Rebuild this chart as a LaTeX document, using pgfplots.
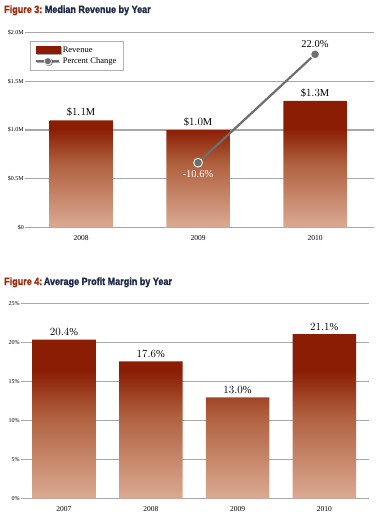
\documentclass[border=0pt]{standalone}
\usepackage{fontspec}
\setmainfont{Liberation Serif}
\newfontfamily\titlefont[FakeStretch=0.86, BoldFeatures={FakeBold=1.6}]{Liberation Sans}
\usepackage{pgfplots}
\pgfplotsset{compat=1.18}
\usetikzlibrary{shadows}
\definecolor{barDark}{HTML}{8A1D03}
\definecolor{barMid}{HTML}{B0613F}
\definecolor{barLight}{HTML}{DBAA93}
\definecolor{figRed}{HTML}{9E2A0C}
\definecolor{navy}{HTML}{1F2B48}
\definecolor{gridGray}{HTML}{A8A8A8}
\definecolor{lineGray}{HTML}{6E6E6E}
\pgfdeclareverticalshading{barshade}{100bp}{color(0bp)=(barLight); color(25bp)=(barLight); color(50bp)=(barMid); color(64bp)=(barDark); color(75bp)=(barDark); color(100bp)=(barDark)}
\pgfplotsset{
  mychart/.style={
    scale only axis, anchor=south west,
    axis line style={draw=none}, tick style={draw=none},
    ymajorgrids, grid style={gridGray, line width=1.3pt},
    yticklabel style={font=\fontsize{6}{6}\selectfont, inner sep=1pt},
    xticklabel style={font=\fontsize{7.5}{7.5}\selectfont},
    ybar, bar width=63.5pt,
    every node near coord/.append style={font=\fontsize{10.5}{11}\selectfont, text=black},
  },
}
\begin{document}
\begin{tikzpicture}
\useasboundingbox (0,0) rectangle (378pt,-516pt);
\node[anchor=base west, inner sep=0] at (4pt,-13pt) {\titlefont\bfseries\fontsize{10.5}{12}\selectfont\textcolor{figRed}{Figure 3:}\hspace{2.5pt}\textcolor{navy}{Median Revenue by Year}};
\node[anchor=base west, inner sep=0] at (4pt,-285pt) {\titlefont\bfseries\fontsize{10.5}{12}\selectfont\textcolor{figRed}{Figure 4:}\hspace{1.5pt}\textcolor{navy}{Average Profit Margin by Year}};

% Figure 3
\begin{axis}[mychart,
  at={(25pt,-227.3pt)}, width=349pt, height=194.6pt,
  xmin=-0.479, xmax=2.504, ymin=0, ymax=2.0,
  ytick={0,0.5,1,1.5,2}, yticklabels={\$0,\$0.5M,\$1.0M,\$1.5M,\$2.0M},
  xtick={0,1,2}, xticklabels={2008,2009,2010},
  nodes near coords={\$\pgfmathprintnumber[fixed,fixed zerofill,precision=1]{\pgfplotspointmeta}M},
  legend style={at={(rel axis cs:0.0143,0.957)}, anchor=north west,
    draw=gray!60, line width=0.8pt, fill=white,
    drop shadow={shadow xshift=1pt, shadow yshift=-1pt, opacity=0.35},
    font=\fontsize{8.5}{9.5}\selectfont, row sep=0pt, inner xsep=5pt, inner ysep=3pt,
    cells={anchor=west}},
  legend cell align=left,
]
\addlegendimage{legend image code/.code={\fill[barDark] (0pt,-3.3pt) rectangle (24pt,3.3pt);}}
\addlegendentry{Revenue}
\addlegendimage{legend image code/.code={\draw[lineGray,line width=2pt] (0pt,0pt) -- (23pt,0pt); \filldraw[fill=lineGray,draw=white,line width=0.6pt] (11.5pt,0pt) circle (3.6pt);}}
\addlegendentry{Percent Change}
\addplot[draw=none, shade, shading=barshade, forget plot, bar shift=0pt]
  coordinates {(0,1.1) (1,1.0) (2,1.3)};
\end{axis}
\begin{axis}[scale only axis, anchor=south west,
  at={(25pt,-227.3pt)}, width=349pt, height=194.6pt,
  xmin=-0.479, xmax=2.504, ymin=-30.03, ymax=28.5,
  hide axis, clip=false]
\addplot[lineGray, line width=2.2pt, mark=*, mark size=4.4pt,
  mark options={fill=lineGray, draw=white, line width=0.9pt}]
  coordinates {(1,-10.6) (2,22.0)};
\node[above=3pt, font=\fontsize{10.5}{11}\selectfont] at (axis cs:2,22.0) {22.0\%};
\node[below=4pt, text=white, font=\fontsize{10.5}{11}\selectfont] at (axis cs:1,-10.6) {-10.6\%};
\end{axis}

% Figure 4
\begin{axis}[mychart,
  at={(20.7pt,-498.7pt)}, width=348.3pt, height=195pt,
  xmin=-0.499, xmax=3.515, ymin=0, ymax=25,
  ytick={0,5,10,15,20,25}, yticklabels={0\%,5\%,10\%,15\%,20\%,25\%},
  xtick={0,1,2,3}, xticklabels={2007,2008,2009,2010},
  nodes near coords={\pgfmathprintnumber[fixed,fixed zerofill,precision=1]{\pgfplotspointmeta}\%},
]
\addplot[draw=none, shade, shading=barshade]
  coordinates {(0,20.4) (1,17.6) (2,13.0) (3,21.1)};
\end{axis}
\end{tikzpicture}
\end{document}
